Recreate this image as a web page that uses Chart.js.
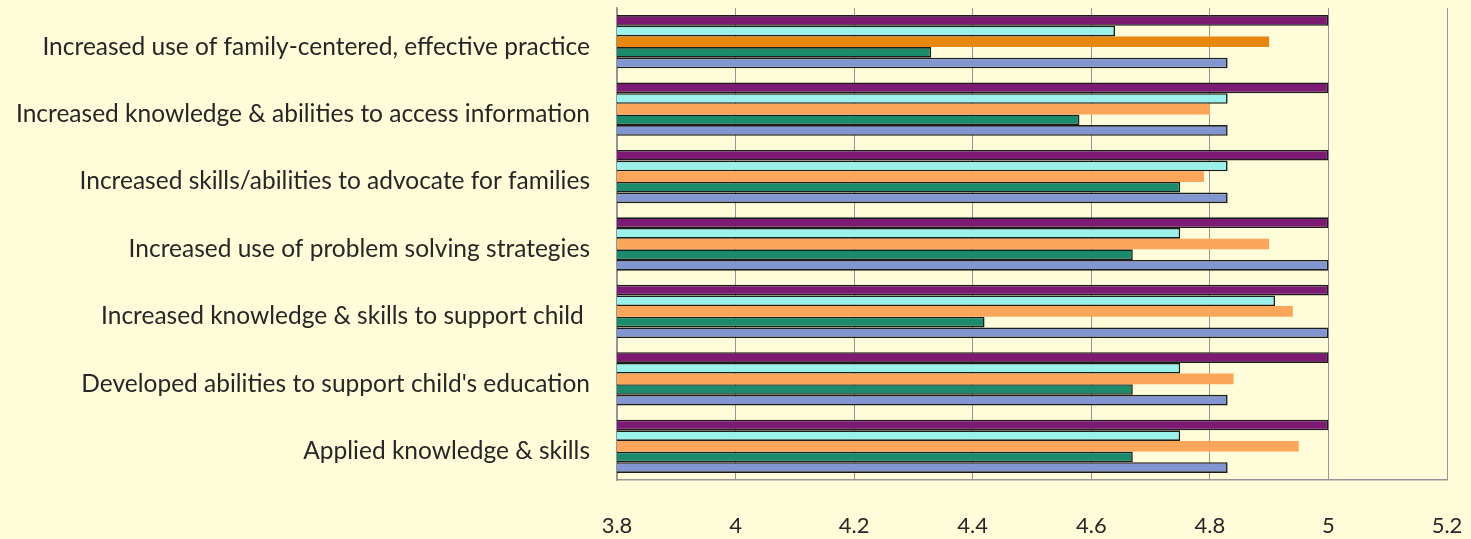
<!DOCTYPE html>
<html>
<head>
<meta charset="utf-8">
<script src="https://cdn.jsdelivr.net/npm/chart.js@4"></script>
<style>
  html, body { margin: 0; padding: 0; background: #FFFDD9; }
  #wrap { width: 1471px; height: 539px; position: relative; }
</style>
</head>
<body>
<div id="wrap"><canvas id="chart"></canvas></div>
<script>
// categories, top to bottom
const categories = [
    'Increased use of family-centered, effective practice',
    'Increased knowledge & abilities to access information',
    'Increased skills/abilities to advocate for families',
    'Increased use of problem solving strategies',
    'Increased knowledge & skills to support child ',
    "Developed abilities to support child's education",
    'Applied knowledge & skills'
];

// series values (bars top to bottom within each group)
const seriesPurple = [5.0, 5.0, 5.0, 5.0, 5.0, 5.0, 5.0];
const seriesCyan   = [4.64, 4.83, 4.83, 4.75, 4.91, 4.75, 4.75];
const seriesOrange = [4.90, 4.80, 4.79, 4.90, 4.94, 4.84, 4.95];
const seriesGreen  = [4.33, 4.58, 4.75, 4.67, 4.42, 4.67, 4.67];
const seriesBlue   = [4.83, 4.83, 4.83, 5.0, 5.0, 4.83, 4.83];

const xMin = 3.8;
const xMax = 5.2;
const xStep = 0.2;

const FONT = 'Lato, "Open Sans", sans-serif';

function barSet(label, data, color, border) {
    return {
        label: label,
        data: data,
        backgroundColor: color,
        borderColor: '#1c1c1c',
        borderWidth: border,
        borderSkipped: false,
        categoryPercentage: 0.79,
        barPercentage: 1.0
    };
}

// first orange bar is a darker shade in the original
const orangeColors = seriesOrange.map((v, i) => i === 0 ? '#E8870E' : '#FBA65A');

const ctx = document.getElementById('chart');
new Chart(ctx, {
    type: 'bar',
    data: {
        labels: categories,
        datasets: [
            barSet('Series 1', seriesPurple, '#7D1A74', 1.6),
            barSet('Series 2', seriesCyan, '#9AF2EA', 1.6),
            barSet('Series 3', seriesOrange, orangeColors, 0),
            barSet('Series 4', seriesGreen, '#1B8B6C', 1.6),
            barSet('Series 5', seriesBlue, '#8297D1', 1.6)
        ]
    },
    options: {
        indexAxis: 'y',
        responsive: true,
        maintainAspectRatio: false,
        animation: false,
        layout: { padding: { top: 8, right: 24, bottom: 0, left: 0 } },
        plugins: {
            legend: { display: false },
            tooltip: { enabled: false }
        },
        scales: {
            x: {
                min: xMin,
                max: xMax,
                ticks: {
                    stepSize: xStep,
                    padding: 33,
                    color: '#262626',
                    font: { family: FONT, size: 22 },
                    callback: v => Number(v.toFixed(1)).toString()
                },
                grid: { color: '#959595', lineWidth: 1, drawTicks: false },
                border: { display: true, color: '#959595', width: 1.5 },
                afterFit: scale => {
                    scale.height = 59;
                    scale.paddingLeft = 0;
                    scale.paddingRight = 0;
                }
            },
            y: {
                ticks: {
                    padding: 27,
                    labelOffset: 5,
                    color: '#262626',
                    font: { family: FONT, size: 24.5 },
                    autoSkip: false
                },
                grid: { display: false, drawTicks: false },
                border: { display: true, color: '#959595', width: 1.5 },
                afterFit: scale => {
                    scale.width = 617;
                    scale.paddingTop = 0;
                    scale.paddingBottom = 0;
                }
            }
        }
    }
});
</script>
</body>
</html>
